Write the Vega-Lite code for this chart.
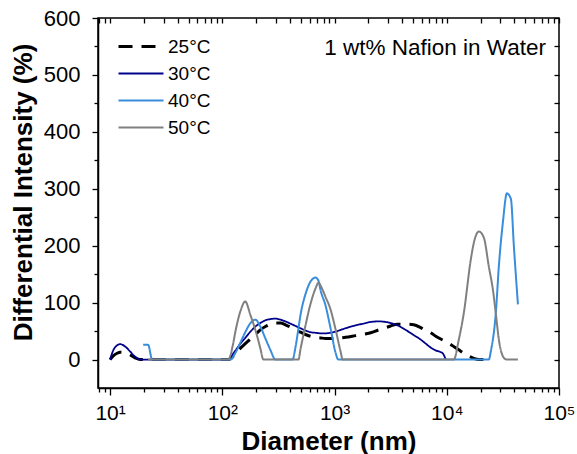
{
  "$schema": "https://vega.github.io/schema/vega-lite/v6.json",
  "width": 461,
  "height": 370,
  "autosize": "none",
  "padding": {"left": 98, "top": 18, "right": 18, "bottom": 66},
  "background": "white",
  "config": {
    "view": {"stroke": "black", "strokeWidth": 1.5},
    "font": "Liberation Sans",
    "axis": {"grid": false, "domainColor": "black", "domainWidth": 1.5, "tickColor": "black", "tickWidth": 1.3, "labelColor": "black", "titleColor": "black", "labelFont": "Liberation Sans", "titleFont": "Liberation Sans", "labelOverlap": false, "labelFlush": false},
    "legend": {"orient": "none", "legendX": 51, "legendY": 19, "symbolType": "M-8,0H1", "symbolSize": 100, "labelFontSize": 19, "labelFont": "Liberation Sans", "labelColor": "black", "labelOffset": 0, "rowPadding": 7, "padding": 0}
  },
  "data": {"values": [
    {"s":"25°C","d":10,"v":0},{"s":"25°C","d":10.6,"v":6},{"s":"25°C","d":11.55,"v":11},{"s":"25°C","d":12.28,"v":13},{"s":"25°C","d":13.6,"v":12},{"s":"25°C","d":15.1,"v":8},{"s":"25°C","d":16.7,"v":3},{"s":"25°C","d":18.5,"v":0},{"s":"25°C","d":113,"v":0},{"s":"25°C","d":131,"v":10},{"s":"25°C","d":145,"v":20},{"s":"25°C","d":160,"v":28},{"s":"25°C","d":178,"v":36},{"s":"25°C","d":197,"v":44},{"s":"25°C","d":218,"v":52},{"s":"25°C","d":242,"v":58},{"s":"25°C","d":268,"v":62},{"s":"25°C","d":297,"v":64},{"s":"25°C","d":330,"v":64},{"s":"25°C","d":365,"v":61},{"s":"25°C","d":405,"v":57},{"s":"25°C","d":449,"v":52},{"s":"25°C","d":497,"v":48},{"s":"25°C","d":551,"v":44},{"s":"25°C","d":611,"v":41},{"s":"25°C","d":677,"v":39},{"s":"25°C","d":750,"v":38},{"s":"25°C","d":831,"v":37},{"s":"25°C","d":921,"v":37},{"s":"25°C","d":1021,"v":37},{"s":"25°C","d":1132,"v":38},{"s":"25°C","d":1254,"v":39},{"s":"25°C","d":1540,"v":42},{"s":"25°C","d":1892,"v":45},{"s":"25°C","d":2096,"v":47},{"s":"25°C","d":2470,"v":52},{"s":"25°C","d":2853,"v":56},{"s":"25°C","d":3162,"v":59},{"s":"25°C","d":3652,"v":62},{"s":"25°C","d":4305,"v":62},{"s":"25°C","d":5075,"v":61},{"s":"25°C","d":5860,"v":56},{"s":"25°C","d":6494,"v":51},{"s":"25°C","d":7197,"v":47},{"s":"25°C","d":7976,"v":41},{"s":"25°C","d":8840,"v":36},{"s":"25°C","d":10200,"v":30},{"s":"25°C","d":11320,"v":24},{"s":"25°C","d":12800,"v":17},{"s":"25°C","d":14190,"v":11},{"s":"25°C","d":15720,"v":6},{"s":"25°C","d":17420,"v":2},{"s":"25°C","d":19310,"v":0},{"s":"25°C","d":24710,"v":0},
    {"s":"30°C","d":10,"v":0},{"s":"30°C","d":10.6,"v":15},{"s":"30°C","d":11.55,"v":25},{"s":"30°C","d":12.28,"v":27},{"s":"30°C","d":13.6,"v":23},{"s":"30°C","d":15.1,"v":14},{"s":"30°C","d":16.7,"v":5},{"s":"30°C","d":18.5,"v":0},{"s":"30°C","d":113,"v":0},{"s":"30°C","d":118,"v":4},{"s":"30°C","d":131,"v":16},{"s":"30°C","d":145,"v":28},{"s":"30°C","d":160,"v":38},{"s":"30°C","d":178,"v":49},{"s":"30°C","d":197,"v":58},{"s":"30°C","d":218,"v":64},{"s":"30°C","d":242,"v":69},{"s":"30°C","d":268,"v":71},{"s":"30°C","d":297,"v":72},{"s":"30°C","d":330,"v":70},{"s":"30°C","d":365,"v":67},{"s":"30°C","d":405,"v":63},{"s":"30°C","d":449,"v":59},{"s":"30°C","d":497,"v":55},{"s":"30°C","d":551,"v":51},{"s":"30°C","d":611,"v":48},{"s":"30°C","d":677,"v":47},{"s":"30°C","d":750,"v":46},{"s":"30°C","d":831,"v":46},{"s":"30°C","d":921,"v":47},{"s":"30°C","d":1021,"v":49},{"s":"30°C","d":1132,"v":52},{"s":"30°C","d":1254,"v":55},{"s":"30°C","d":1540,"v":60},{"s":"30°C","d":1892,"v":64},{"s":"30°C","d":2096,"v":66},{"s":"30°C","d":2470,"v":67},{"s":"30°C","d":2853,"v":66},{"s":"30°C","d":3162,"v":64},{"s":"30°C","d":3652,"v":60},{"s":"30°C","d":4305,"v":52},{"s":"30°C","d":5075,"v":43},{"s":"30°C","d":5860,"v":35},{"s":"30°C","d":6494,"v":28},{"s":"30°C","d":7197,"v":21},{"s":"30°C","d":7976,"v":16},{"s":"30°C","d":8840,"v":13},{"s":"30°C","d":9205,"v":11},{"s":"30°C","d":9795,"v":0},
    {"s":"40°C","d":19.7,"v":26},{"s":"40°C","d":21.8,"v":26},{"s":"40°C","d":23.7,"v":0},{"s":"40°C","d":118,"v":0},{"s":"40°C","d":131,"v":12},{"s":"40°C","d":145,"v":30},{"s":"40°C","d":160,"v":48},{"s":"40°C","d":178,"v":64},{"s":"40°C","d":197,"v":70},{"s":"40°C","d":218,"v":58},{"s":"40°C","d":242,"v":37},{"s":"40°C","d":268,"v":17},{"s":"40°C","d":297,"v":0},{"s":"40°C","d":422,"v":0},{"s":"40°C","d":449,"v":22},{"s":"40°C","d":477,"v":55},{"s":"40°C","d":497,"v":78},{"s":"40°C","d":551,"v":115},{"s":"40°C","d":611,"v":137},{"s":"40°C","d":677,"v":144},{"s":"40°C","d":720,"v":138},{"s":"40°C","d":750,"v":122},{"s":"40°C","d":831,"v":95},{"s":"40°C","d":921,"v":55},{"s":"40°C","d":1021,"v":12},{"s":"40°C","d":1080,"v":0},{"s":"40°C","d":23710,"v":0},{"s":"40°C","d":24710,"v":15},{"s":"40°C","d":27380,"v":83},{"s":"40°C","d":29110,"v":164},{"s":"40°C","d":31620,"v":241},{"s":"40°C","d":34340,"v":292},{"s":"40°C","d":37270,"v":282},{"s":"40°C","d":39620,"v":199},{"s":"40°C","d":43050,"v":97},
    {"s":"50°C","d":21.8,"v":0},{"s":"50°C","d":113,"v":0},{"s":"50°C","d":124,"v":25},{"s":"50°C","d":131,"v":50},{"s":"50°C","d":145,"v":85},{"s":"50°C","d":160,"v":102},{"s":"50°C","d":178,"v":78},{"s":"50°C","d":197,"v":52},{"s":"50°C","d":218,"v":20},{"s":"50°C","d":232,"v":0},{"s":"50°C","d":477,"v":0},{"s":"50°C","d":497,"v":18},{"s":"50°C","d":551,"v":60},{"s":"50°C","d":611,"v":98},{"s":"50°C","d":677,"v":125},{"s":"50°C","d":720,"v":135},{"s":"50°C","d":750,"v":130},{"s":"50°C","d":831,"v":110},{"s":"50°C","d":921,"v":88},{"s":"50°C","d":1021,"v":53},{"s":"50°C","d":1132,"v":14},{"s":"50°C","d":1180,"v":0},{"s":"50°C","d":11550,"v":0},{"s":"50°C","d":12800,"v":35},{"s":"50°C","d":14190,"v":82},{"s":"50°C","d":16380,"v":176},{"s":"50°C","d":17420,"v":205},{"s":"50°C","d":19310,"v":225},{"s":"50°C","d":21400,"v":214},{"s":"50°C","d":23710,"v":163},{"s":"50°C","d":25750,"v":123},{"s":"50°C","d":27380,"v":80},{"s":"50°C","d":29110,"v":35},{"s":"50°C","d":32280,"v":3},{"s":"50°C","d":34340,"v":0},{"s":"50°C","d":43050,"v":0}
  ]},
  "layer": [
    {
      "mark": {"type": "line", "interpolate": "monotone"},
      "encoding": {
        "x": {"field": "d", "type": "quantitative", "scale": {"type": "log", "domain": [7.8, 100000], "nice": false},
          "axis": {"orient": "bottom", "values": [8,9,10,20,30,40,50,60,70,80,90,100,200,300,400,500,600,700,800,900,1000,2000,3000,4000,5000,6000,7000,8000,9000,10000,20000,30000,40000,50000,60000,70000,80000,90000,100000],
            "labelExpr": "indexof([10,100,1000,10000,100000], datum.value) >= 0 ? '10' + ['¹','²','³','⁴','⁵'][round(log(datum.value)/LN10)-1] : ''",
            "tickSize": {"condition": {"test": "indexof([10,100,1000,10000,100000], datum.value) >= 0", "value": 7}, "value": 4},
            "labelFontSize": 21, "labelPadding": 7, "title": "Diameter (nm)", "titleFontSize": 26, "titleFontWeight": "bold", "titleY": 61, "titleBaseline": "alphabetic"}},
        "y": {"field": "v", "type": "quantitative", "scale": {"domain": [-50, 600], "nice": false, "zero": false},
          "axis": {"orient": "left", "values": [0,50,100,150,200,250,300,350,400,450,500,550,600],
            "labelExpr": "datum.value % 100 === 0 ? datum.label : ''",
            "tickSize": {"condition": {"test": "datum.value % 100 === 0", "value": 6}, "value": 4},
            "labelFontSize": 22, "labelPadding": 12, "title": "Differential Intensity (%)", "titleFontSize": 26, "titleFontWeight": "bold", "titleX": -75, "titleY": 174, "titleAngle": 270, "titleBaseline": "middle", "titleAlign": "center"}},
        "color": {"field": "s", "type": "nominal", "scale": {"domain": ["25°C","30°C","40°C","50°C"], "range": ["#000000","#00008B","#3A8DDB","#808080"]},
          "legend": {"title": null, "encode": {"symbols": {"update": {"strokeWidth": {"signal": "datum.value === '25°C' ? 3.5 : 2"}}}}}},
        "strokeDash": {"field": "s", "type": "nominal", "scale": {"domain": ["25°C","30°C","40°C","50°C"], "range": [[14,9],[1,0],[1,0],[1,0]]}, "legend": {"title": null}},
        "strokeWidth": {"field": "s", "type": "nominal", "scale": {"type": "ordinal", "domain": ["25°C","30°C","40°C","50°C"], "range": [3, 1.8, 2, 2]}, "legend": null}
      }
    },
    {
      "mark": {"type": "line", "opacity": 0},
      "encoding": {
        "x": {"field": "d", "type": "quantitative",
          "axis": {"orient": "top", "offset": -5, "domain": false, "ticks": true, "values": [8,9,10,20,30,40,50,60,70,80,90,100,200,300,400,500,600,700,800,900,1000,2000,3000,4000,5000,6000,7000,8000,9000,10000,20000,30000,40000,50000,60000,70000,80000,90000,100000],
            "labels": false, "title": null, "tickSize": 5, "tickColor": "black", "tickWidth": 1.3}},
        "y": {"field": "v", "type": "quantitative",
          "axis": {"orient": "right", "offset": -5, "domain": false, "ticks": true, "values": [0,50,100,150,200,250,300,350,400,450,500,550,600], "labels": false, "title": null, "tickSize": 5, "tickColor": "black", "tickWidth": 1.3}},
        "detail": {"field": "s"}
      }
    },
    {
      "data": {"values": [{"t": "1 wt% Nafion in Water"}]},
      "mark": {"type": "text", "align": "right", "baseline": "alphabetic", "fontSize": 22.5, "font": "Liberation Sans", "color": "black"},
      "encoding": {
        "text": {"field": "t"},
        "x": {"datum": 76600, "type": "quantitative", "axis": null},
        "y": {"datum": 535, "type": "quantitative", "axis": null}
      }
    }
  ],
  "resolve": {"axis": {"x": "independent", "y": "independent"}}
}
